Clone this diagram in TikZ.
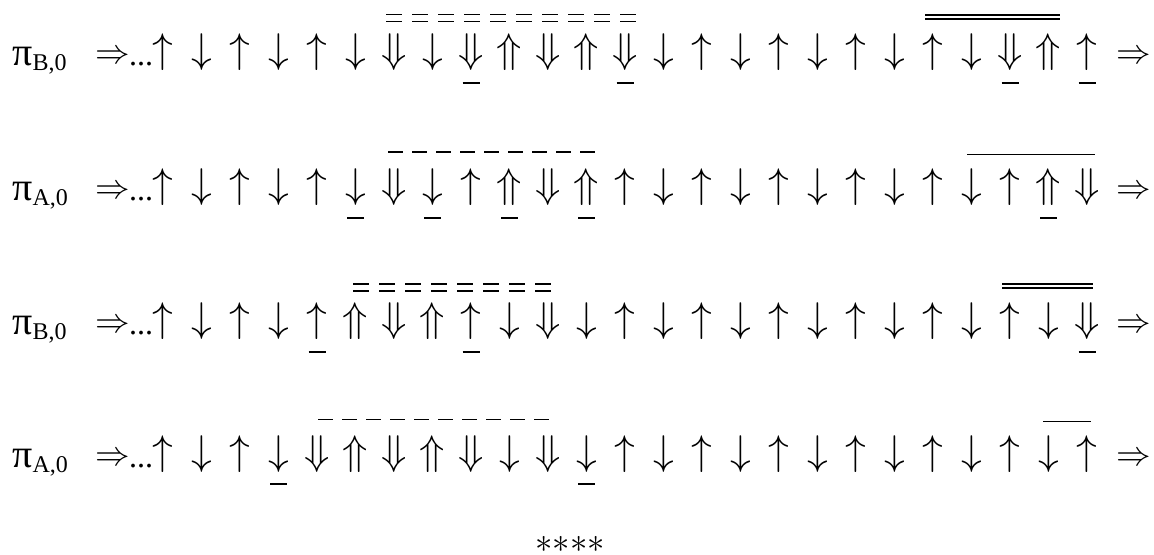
\documentclass[tikz,border=0pt]{standalone}
\usepackage{fontspec}
\setmainfont{Liberation Serif}
\usetikzlibrary{calc}
\newcommand{\aru}{\uparrow}
\newcommand{\ard}{\downarrow}
\newcommand{\arU}{\Uparrow}
\newcommand{\arD}{\Downarrow}

\begin{document}
\begin{tikzpicture}[x=0.5pt, y=0.5pt,
  spin/.style={inner sep=0pt, font=\huge},
  imp/.style={inner sep=0pt, font=\LARGE},
  dashdbl/.style={double, line width=0.75pt, double distance=2.7pt, dash pattern=on 8pt off 5pt},
  soliddbl/.style={double, line width=1pt, double distance=1.3pt},
  dashsgl/.style={line width=0.8pt, dash pattern=on 7.5pt off 4.5pt},
  solidsgl/.style={line width=0.75pt},
  ubar/.style={line width=0.75pt}]
  \useasboundingbox (0,0) rectangle (1154,-554);

  % Spin rows: label, leading arrow, dots, 25 spins, trailing arrow
  \foreach \rw/\yc/\lab/\seq in {
    1/52/B/{u,d,u,d,u,d,D,d,D,U,D,U,D,d,u,d,u,d,u,d,u,d,D,U,u},
    2/187/A/{u,d,u,d,u,d,D,d,u,U,D,U,u,d,u,d,u,d,u,d,u,d,u,U,D},
    3/321/B/{u,d,u,d,u,U,D,U,u,d,D,d,u,d,u,d,u,d,u,d,u,d,u,d,D},
    4/454/A/{u,d,u,d,D,U,D,U,D,d,D,d,u,d,u,d,u,d,u,d,u,d,u,d,u}} {
    \node[anchor=base west, inner sep=0pt] (lab\rw) at (12,-\yc-13)
      {{\fontsize{20}{20}\selectfont π}\raisebox{-2.8pt}{\fontsize{12}{12}\selectfont \lab,0}};
    \node[imp] (in\rw) at (112.5,-\yc-5.5) {$\Rightarrow$};
    \node[anchor=base, inner sep=0pt, font=\fontsize{16}{16}\selectfont] (dots\rw) at (141,-\yc-13.5) {...};
    \foreach \s [count=\i] in \seq
      \node[spin] (r\rw a\i) at ({163+38.5*(\i-1)},-\yc) {$\csname ar\s\endcsname$};
    \node[imp] (out\rw) at (1134,-\yc-5.5) {$\Rightarrow$};
  }

  % Row 1 marks
  \draw[dashdbl] ($(r1a7)+(-8,34)$) -- ($(r1a13)+(12,34)$);
  \draw[soliddbl] ($(r1a21)+(-8,35)$) -- ($(r1a24)+(11.5,35)$);
  \foreach \i in {9,13,23,25}
    \draw[ubar] ($(r1a\i)+(-8.5,-31)$) -- ++(17,0);

  % Row 2 marks
  \draw[dashsgl] ($(r2a7)+(-6,35)$) -- ($(r2a12)+(10.5,35)$);
  \draw[solidsgl] ($(r2a22)+(-4.5,32.5)$) -- ($(r2a25)+(8,32.5)$);
  \foreach \i in {6,8,10,12,24}
    \draw[ubar] ($(r2a\i)+(-8.5,-31)$) -- ++(17,0);

  % Row 3 marks
  \draw[dashdbl] ($(r3a6)+(-2.5,33.5)$) -- ($(r3a11)+(4,33.5)$);
  \draw[soliddbl] ($(r3a23)+(-8,35)$) -- ($(r3a25)+(6,35)$);
  \foreach \i in {5,9,25}
    \draw[ubar] ($(r3a\i)+(-8.5,-31)$) -- ++(17,0);

  % Row 4 marks
  \draw[dashsgl] ($(r4a5)+(1,34.7)$) -- ($(r4a11)+(2,34.7)$);
  \draw[solidsgl] ($(r4a24)+(-5.5,32.3)$) -- ($(r4a25)+(4,32.3)$);
  \foreach \i in {4,12}
    \draw[ubar] ($(r4a\i)+(-8.5,-30)$) -- ++(17,0);

  \node[font=\LARGE] (stars) at (570,-544) {${\ast}{\ast}{\ast}{\ast}$};
\end{tikzpicture}
\end{document}
